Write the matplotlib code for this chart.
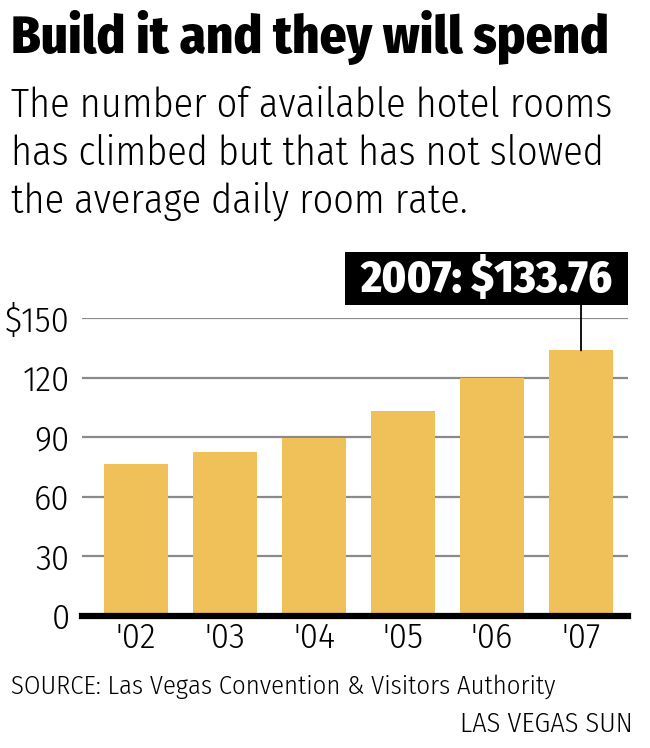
import matplotlib
matplotlib.use("Agg")
import matplotlib.pyplot as plt
from matplotlib.patches import Rectangle

FONT = "Fira Sans Condensed"

years = ["'02", "'03", "'04", "'05", "'06", "'07"]
rates = [76.7, 82.5, 89.8, 103.0, 119.9, 133.76]
yticks = [0, 30, 60, 90, 120, 150]
ytick_labels = ["0", "30", "60", "90", "120", "$150"]
title = "Build it and they will spend"
subtitle = ["The number of available hotel rooms",
            "has climbed but that has not slowed",
            "the average daily room rate."]
callout = "2007: $133.76"
source = "SOURCE: Las Vegas Convention & Visitors Authority"
credit = "LAS VEGAS SUN"

W, H = 650, 748
fig = plt.figure(figsize=(W / 100, H / 100), dpi=100)
fig.patch.set_facecolor("white")
renderer = fig.canvas.get_renderer()


def fx(px):
    return px / W


def fy(py):
    return 1 - py / H


def fit(t, width_px):
    ext = t.get_window_extent(renderer)
    t.set_fontsize(t.get_fontsize() * width_px / ext.width)
    return t.get_fontsize()


ax = fig.add_axes([fx(82), fy(615.7), fx(628) - fx(82), (615.7 - 318.3) / H])
x = list(range(len(years)))
ax.bar(x, rates, width=0.71, color="#EFC158", zorder=2)
ax.set_xlim(-0.607, 5.528)
ax.set_ylim(0, 150)
ax.set_yticks(yticks)
ax.set_yticklabels(ytick_labels)
ax.set_xticks(x)
ax.set_xticklabels(years)
for s in ax.spines.values():
    s.set_visible(False)
ax.yaxis.grid(True, color="#8a8a8a", linewidth=1.6, zorder=1)
ax.set_axisbelow(True)
ax.axhline(0, color="black", linewidth=4.5, zorder=3, clip_on=False)
ax.tick_params(axis="both", length=0, labelsize=26, labelcolor="black")
ax.tick_params(axis="y", pad=9)
ax.tick_params(axis="x", pad=4)
for lab in ax.get_xticklabels() + ax.get_yticklabels():
    lab.set_fontfamily(FONT)
    lab.set_fontweight(300)

# callout box and leader
bx0, bx1, by0, by1 = 345, 628, 252, 305
fig.patches.append(Rectangle((fx(bx0), fy(by1)), fx(bx1) - fx(bx0), (by1 - by0) / H,
                             transform=fig.transFigure, fc="black", ec="none", zorder=3))
ax.annotate("", xy=(x[-1], rates[-1]), xycoords="data",
            xytext=(x[-1], 0), textcoords=("data", "figure fraction"),
            arrowprops=dict(arrowstyle="-", color="black", lw=1.3, shrinkA=0, shrinkB=0))
# place leader start at box bottom
ax.texts[-1].xyann = (x[-1], fy(by1))
ct = fig.text(fx((bx0 + bx1) / 2), fy((by0 + by1) / 2 + 1), callout,
              ha="center", va="center", color="white", fontsize=28, fontweight=800,
              fontfamily=FONT, zorder=4)
fit(ct, 252)

t = fig.text(fx(11), fy(53), title, fontsize=40, fontweight=800, fontfamily=FONT,
             ha="left", va="baseline", color="black")
fit(t, 597)
subs = []
for i, line in enumerate(subtitle):
    subs.append(fig.text(fx(11), fy(117 + 48 * i), line, fontsize=29, fontfamily=FONT,
                         fontweight=300, ha="left", va="baseline", color="black"))
sz = fit(subs[0], 601)
for s_ in subs:
    s_.set_fontsize(sz)
t = fig.text(fx(11), fy(694), source, fontsize=19, fontfamily=FONT, fontweight=300,
             ha="left", va="baseline", color="black")
fit(t, 545)
t = fig.text(fx(633), fy(732), credit, fontsize=17, fontfamily=FONT, fontweight=300,
             ha="right", va="baseline", color="black")
fit(t, 173)

fig.savefig("out.png", dpi=100, facecolor="white")
